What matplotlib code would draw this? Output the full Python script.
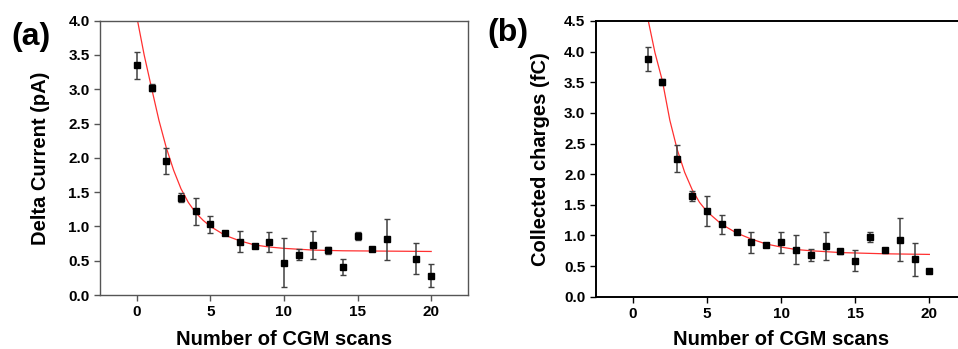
"""Two-panel decay figure: delta current and collected charge vs CGM scans."""

import matplotlib
matplotlib.use("Agg")
import matplotlib.pyplot as plt

plt.rcParams["font.family"] = ["Liberation Sans", "DejaVu Sans"]
plt.rcParams["font.weight"] = "bold"

# panel (a): delta current (pA)
scan_a = [0, 1, 2, 3, 4, 5, 6, 7, 8, 9, 10, 11, 12, 13, 14, 15, 16, 17, 19, 20]
current = [3.35, 3.02, 1.95, 1.42, 1.22, 1.03, 0.91, 0.78, 0.72, 0.77,
           0.47, 0.59, 0.73, 0.65, 0.41, 0.86, 0.67, 0.81, 0.53, 0.28]
current_err = [0.20, 0.05, 0.19, 0.07, 0.20, 0.12, 0.03, 0.15, 0.02, 0.15,
               0.36, 0.08, 0.20, 0.05, 0.12, 0.06, 0.02, 0.30, 0.23, 0.17]
fit_x_a = [0.05, 0.5, 1, 1.5, 2, 2.5, 3, 3.5, 4, 4.5, 5, 6, 7, 8, 9, 10, 12, 14, 17, 20]
fit_y_a = [4.00, 3.50, 3.02, 2.55, 2.15, 1.82, 1.55, 1.35, 1.20, 1.09, 1.00,
           0.87, 0.79, 0.73, 0.70, 0.68, 0.655, 0.645, 0.64, 0.635]

# panel (b): collected charges (fC)
scan_b = list(range(1, 21))
charge = [3.88, 3.50, 2.25, 1.64, 1.40, 1.18, 1.05, 0.89, 0.84, 0.89,
          0.77, 0.68, 0.83, 0.74, 0.59, 0.98, 0.77, 0.93, 0.61, 0.42]
charge_err = [0.20, 0.05, 0.22, 0.08, 0.24, 0.15, 0.03, 0.17, 0.03, 0.17,
              0.23, 0.10, 0.23, 0.04, 0.17, 0.08, 0.02, 0.35, 0.27, 0.03]
fit_x_b = [1.05, 1.5, 2, 2.5, 3, 3.5, 4, 4.5, 5, 6, 7, 8, 9, 10, 11, 12, 14, 17, 20]
fit_y_b = [4.50, 3.98, 3.52, 2.88, 2.40, 2.03, 1.75, 1.54, 1.39, 1.18, 1.04,
           0.94, 0.86, 0.81, 0.77, 0.75, 0.72, 0.70, 0.69]


def draw_panel(ax, x, y, err, fx, fy, ylim, ylabel, spine_color, spine_w,
               xlab_y, ylab_x):
    ax.plot(fx, fy, color="#ff3030", lw=0.9, zorder=2)
    ax.errorbar(x, y, yerr=err, fmt="s", ms=5, color="black",
                ecolor="#404040", elinewidth=1.1, capsize=2.5, capthick=1.0,
                zorder=3)
    ax.set_xlim(-2.5, 22.5)
    ax.set_ylim(*ylim)
    ax.set_xticks([0, 5, 10, 15, 20])
    ax.set_yticks([v * 0.5 for v in range(int(ylim[1] / 0.5) + 1)])
    ax.yaxis.set_major_formatter(matplotlib.ticker.FormatStrFormatter("%.1f"))
    ax.tick_params(direction="out", length=4, width=1, labelsize=11,
                   top=False, right=False, color=spine_color)
    for lbl in ax.get_xticklabels() + ax.get_yticklabels():
        lbl.set_fontweight("bold")
    for s in ax.spines.values():
        s.set_color(spine_color)
        s.set_linewidth(spine_w)
    ax.set_xlabel("Number of CGM scans", fontsize=14.5, fontweight="bold",
                  va="center")
    ax.set_ylabel(ylabel, fontsize=14.5, fontweight="bold", va="center")
    ax.xaxis.set_label_coords(0.5, xlab_y)
    ax.yaxis.set_label_coords(ylab_x, 0.5)


fig = plt.figure(figsize=(9.58, 3.49), dpi=100)
ax_a = fig.add_axes([0.1044, 0.1547, 0.3841, 0.786])
ax_b = fig.add_axes([0.6218, 0.1499, 0.387, 0.790])

draw_panel(ax_a, scan_a, current, current_err, fit_x_a, fit_y_a, (0, 4.0),
           "Delta Current (pA)", "#555555", 1.0, -0.164, -0.163)
draw_panel(ax_b, scan_b, charge, charge_err, fit_x_b, fit_y_b, (0, 4.5),
           "Collected charges (fC)", "black", 1.4, -0.156, -0.148)

fig.text(0.012, 0.895, "(a)", fontsize=23, fontweight="bold", va="center")
fig.text(0.509, 0.905, "(b)", fontsize=23, fontweight="bold", va="center")

fig.savefig("out.png", dpi=100)
